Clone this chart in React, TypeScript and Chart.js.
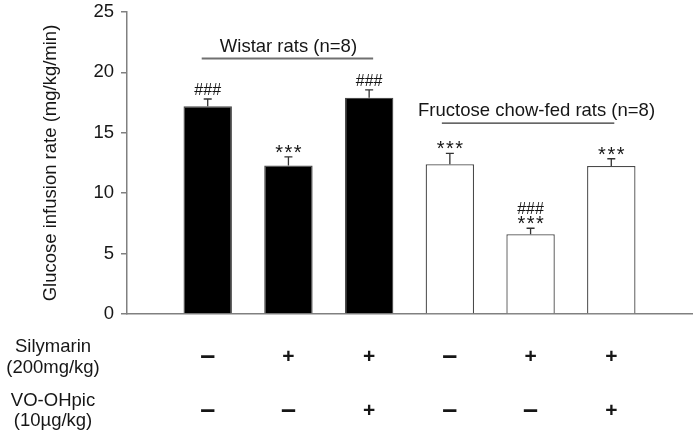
import React, { useEffect, useRef } from "react";
import { Chart, registerables } from "chart.js";

Chart.register(...registerables);

// ---- data ----
const categories = [
  "",
  "Wistar",
  "Wistar + Silymarin",
  "Wistar + Silymarin + VO-OHpic",
  "Fructose",
  "Fructose + Silymarin",
  "Fructose + Silymarin + VO-OHpic",
  "",
];
const meanValues = [null, 17.2, 12.3, 17.9, 12.4, 6.6, 12.25, null];
const semValues = [null, 0.6, 0.7, 0.65, 0.9, 0.5, 0.6, null];
const hashMarks = ["", "###", "", "###", "", "###", "", ""];
const starMarks = ["", "", "***", "", "***", "***", "***", ""];
const silymarinRow = ["", "–", "+", "+", "–", "+", "+", ""];
const voRow = ["", "–", "–", "+", "–", "–", "+", ""];
const yTickValues = [0, 5, 10, 15, 20, 25];
const groupLabels = ["Wistar rats (n=8)", "Fructose chow-fed rats (n=8)"];
const yTitle = "Glucose infusion rate (mg/kg/min)";
const rowLabels = [["Silymarin", "(200mg/kg)"], ["VO-OHpic", "(10µg/kg)"]];

const FONT = "'Liberation Sans', Arial, sans-serif";
const AXIS_GRAY = "#808080";
const TEXT = "#161616";

const overlay = {
  id: "overlay",
  beforeDraw(chart: any) {
    const c = chart.ctx;
    c.save();
    c.fillStyle = "#ffffff";
    c.fillRect(0, 0, chart.width, chart.height);
    c.restore();
  },
  afterDatasetsDraw(chart: any) {
    const c = chart.ctx;
    const x = chart.scales.x;
    const y = chart.scales.y;
    const area = chart.chartArea;
    c.save();

    // error bars
    c.strokeStyle = "#333333";
    c.lineWidth = 1.3;
    meanValues.forEach((m, i) => {
      if (m == null) return;
      const cx = x.getPixelForValue(i);
      const y0 = y.getPixelForValue(m);
      const y1 = y.getPixelForValue(m + (semValues[i] as number));
      c.beginPath();
      c.moveTo(cx, y0);
      c.lineTo(cx, y1);
      c.moveTo(cx - 4, y1);
      c.lineTo(cx + 4, y1);
      c.stroke();
    });

    // significance marks
    c.fillStyle = TEXT;
    c.textAlign = "center";
    c.textBaseline = "alphabetic";
    meanValues.forEach((m, i) => {
      if (m == null) return;
      const cx = x.getPixelForValue(i);
      const top = y.getPixelForValue(m + (semValues[i] as number));
      if (starMarks[i]) {
        c.font = `20px ${FONT}`;
        (c as any).letterSpacing = "1.5px";
        c.fillText(starMarks[i], cx + 0.75, top + 2);
        (c as any).letterSpacing = "0px";
      }
      if (hashMarks[i]) {
        c.font = `16px ${FONT}`;
        c.fillText(hashMarks[i], cx, starMarks[i] ? top - 14 : top - 4);
      }
    });

    // group labels
    c.font = `18.5px ${FONT}`;
    c.fillText(groupLabels[0], x.getPixelForValue(2), y.getPixelForValue(21.7));
    c.strokeStyle = "#707070";
    c.lineWidth = 2;
    c.beginPath();
    const wy = y.getPixelForValue(21.15);
    c.moveTo(x.getPixelForValue(1) - 6, wy);
    c.lineTo(x.getPixelForValue(3) + 4, wy);
    c.stroke();

    c.fillText(groupLabels[1], x.getPixelForValue(5) + 6, y.getPixelForValue(16.35));
    c.strokeStyle = "#333333";
    c.lineWidth = 1.3;
    c.beginPath();
    const fy = y.getPixelForValue(15.8);
    c.moveTo(x.getPixelForValue(4) - 8, fy);
    c.lineTo(x.getPixelForValue(6) + 3, fy);
    c.stroke();

    // y title
    c.save();
    c.translate(51, (area.top + area.bottom) / 2);
    c.rotate(-Math.PI / 2);
    c.textBaseline = "middle";
    c.font = `18.5px ${FONT}`;
    c.fillText(yTitle, 0, 0);
    c.restore();

    // treatment table
    c.textBaseline = "middle";
    c.font = `18.5px ${FONT}`;
    c.fillText(rowLabels[0][0], 53, area.bottom + 33);
    c.fillText(rowLabels[0][1], 53, area.bottom + 54);
    c.fillText(rowLabels[1][0], 53, area.bottom + 87);
    c.fillText(rowLabels[1][1], 53, area.bottom + 107);
    const drawSym = (s: string, cx: number, cy: number) => {
      if (!s) return;
      if (s === "+") {
        c.font = `bold 21px ${FONT}`;
        c.fillText(s, cx, cy);
      } else {
        c.font = `bold 27px ${FONT}`;
        c.fillText(s, cx, cy);
      }
    };
    silymarinRow.forEach((s, i) => drawSym(s, x.getPixelForValue(i), area.bottom + 43));
    voRow.forEach((s, i) => drawSym(s, x.getPixelForValue(i), area.bottom + 97));

    c.restore();
  },
};

export default function App() {
  const ref = useRef<HTMLCanvasElement | null>(null);
  useEffect(() => {
    if (!ref.current) return;
    const fills = meanValues.map((_, i) => (i <= 3 ? "#000000" : "#ffffff"));
    const chart = new Chart(ref.current, {
      type: "bar",
      data: {
        labels: categories,
        datasets: [
          {
            data: meanValues as any,
            backgroundColor: fills,
            borderColor: "#4a4a4a",
            borderWidth: 1.3,
            barPercentage: 0.6,
            categoryPercentage: 1,
          },
        ],
      },
      options: {
        responsive: false,
        animation: false,
        layout: { padding: { left: 0, right: 7, top: 12, bottom: 123 } },
        plugins: { legend: { display: false }, tooltip: { enabled: false } },
        scales: {
          x: {
            type: "category",
            offset: false,
            grid: { display: false },
            ticks: { display: false },
            border: { display: true, color: AXIS_GRAY, width: 1.5 },
            afterFit: (a: any) => {
              a.height = 0;
              a.paddingLeft = 0;
              a.paddingRight = 0;
            },
          },
          y: {
            min: 0,
            max: 25,
            afterBuildTicks: (a: any) => {
              a.ticks = yTickValues.map((v) => ({ value: v }));
            },
            ticks: {
              font: { size: 18.5, family: FONT },
              color: TEXT,
              padding: 7,
            },
            grid: {
              display: true,
              drawOnChartArea: false,
              drawTicks: true,
              tickLength: 6,
              color: AXIS_GRAY,
              lineWidth: 1.5,
            },
            border: { display: true, color: AXIS_GRAY, width: 1.5 },
            afterFit: (a: any) => {
              a.width = 127;
              a.paddingTop = 0;
              a.paddingBottom = 0;
            },
          },
        },
      },
      plugins: [overlay],
    });
    return () => chart.destroy();
  }, []);
  return (
    <div style={{ position: "absolute", left: 0, top: 0, width: 699, height: 437, background: "#fff" }}>
      <canvas ref={ref} width={699} height={437} />
    </div>
  );
}
